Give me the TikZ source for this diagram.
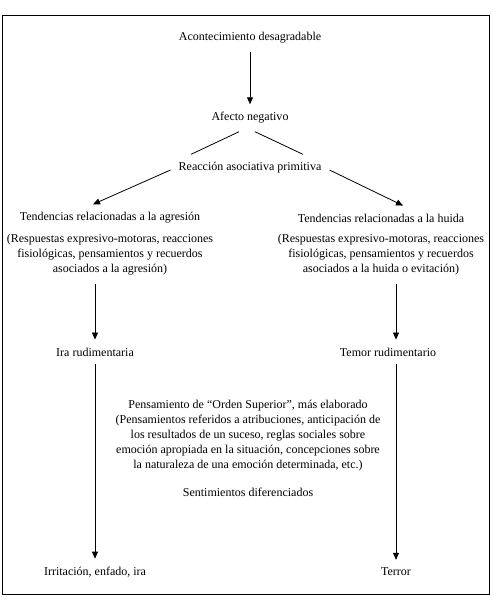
\documentclass[tikz,border=0pt]{standalone}
\usepackage{fontspec}
\setmainfont{Liberation Serif}
\usetikzlibrary{arrows.meta}

\begin{document}
\begin{tikzpicture}[x=1pt,y=-1pt]
				\useasboundingbox (0,0) rectangle (492,604);
				\draw[line width=0.8pt] (2,15) rectangle (489,594);
				\begin{scope}[every node/.style={inner sep=8pt,align=center,font=\fontsize{12pt}{15pt}\selectfont}]
				\node (acont) at (250,38) {Acontecimiento desagradable};
				\node (afecto) at (250,118) {Afecto negativo};
				\node (reaccion) at (250,168) {Reacción asociativa primitiva};
				\node (tendA) at (110,218) {Tendencias relacionadas a la agresión};
				\node (respA) at (110,255) {(Respuestas expresivo-motoras, reacciones\\fisiológicas, pensamientos y recuerdos\\asociados a la agresión)};
				\node (tendH) at (381,218) {Tendencias relacionadas a la huida};
				\node (respH) at (381,255) {(Respuestas expresivo-motoras, reacciones\\fisiológicas, pensamientos y recuerdos\\asociados a la huida o evitación)};
				\node (iraR) at (95,352) {Ira rudimentaria};
				\node (temorR) at (388,352) {Temor rudimentario};
				\node (pensam) at (248,436) {Pensamiento de “Orden Superior”, más elaborado\\(Pensamientos referidos a atribuciones, anticipación de\\los resultados de un suceso, reglas sociales sobre\\emoción apropiada en la situación, concepciones sobre\\la naturaleza de una emoción determinada, etc.)};
				\node (sentim) at (248,492) {Sentimientos diferenciados};
				\node (irrit) at (95,572) {Irritación, enfado, ira};
				\node (terror) at (396,572) {Terror};
				\end{scope}
				\begin{scope}[>={Triangle[length=7pt,width=6pt]},
				every edge/.style={draw,line width=0.8pt}]
				\path [->] (acont) edge (afecto);
				\path [-]  ([xshift=-11pt]afecto.south) edge ([xshift=-59pt]reaccion.north);
				\path [-]  ([xshift=5pt]afecto.south) edge ([xshift=53pt]reaccion.north);
				\path [->] ([yshift=-2pt]reaccion.west) edge ([xshift=-17pt]tendA.north);
				\path [->] ([yshift=-2pt]reaccion.east) edge ([xshift=22pt]tendH.north);
				\path [->] (respA.south -| iraR.north) edge (iraR.north);
				\path [->] ([xshift=8pt]respH.south -| temorR.north) edge ([xshift=8pt]temorR.north);
				\path [->] (iraR) edge (irrit);
				\path [->] ([xshift=8pt]temorR.south) edge (terror);
				\end{scope}
\end{tikzpicture}
\end{document}
